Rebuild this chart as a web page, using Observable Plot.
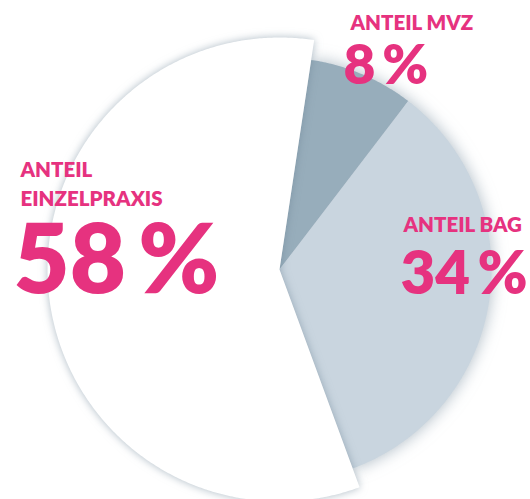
<!DOCTYPE html>
<html><head><meta charset="utf-8">
<script src="https://cdn.jsdelivr.net/npm/d3@7"></script>
<script src="https://cdn.jsdelivr.net/npm/@observablehq/plot@0.6"></script>
<style>html,body{margin:0;padding:0;background:#fff;}</style>
</head><body><div id="chart"></div>
<script>
// ---- data ----
const categories = ["MVZ", "BAG", "Einzelpraxis"];
const shares = [8, 34, 58];
const headLabels = ["ANTEIL MVZ", "ANTEIL BAG", "ANTEIL\nEINZELPRAXIS"];
const valueLabels = ["8\u2009%", "34\u2009%", "58\u2009%"];

// ---- styling / layout ----
const W = 530, H = 499;
const cx = 279, cy = 269;              // pie centre (px)
const sliceColors = ["#97adbb", "#c9d5df", "#ffffff"];
const sliceRadius = [212, 212, 232];   // white slice drawn larger
const startDeg = 8.6;
const pink = "#e6327f";
const font = "Lato, 'Open Sans', sans-serif";
const labelLayout = [
  {head: {x: 350, y: 29, size: 20.5}, value: {x: 343, y: 83, size: 55}},
  {head: {x: 403, y: 231, size: 20.5}, value: {x: 400, y: 293, size: 60}},
  {head: {x: 20, y: 205, size: 20.5}, value: {x: 13, y: 292, size: 97}}
];

const rows = categories.map((c, i) => ({key: c, share: shares[i], color: sliceColors[i], r: sliceRadius[i]}));
const start = startDeg * Math.PI / 180;
const arcs = d3.pie().sort(null).value(d => d.share).startAngle(start).endAngle(start + 2 * Math.PI)(rows);

function slicePoints(a) {
  const r = a.data.r;
  const pts = [{key: a.data.key, color: a.data.color, x: 0, y: 0}];
  const n = Math.max(2, Math.ceil((a.endAngle - a.startAngle) / (Math.PI / 360)));
  for (let i = 0; i <= n; i++) {
    const t = a.startAngle + (a.endAngle - a.startAngle) * i / n;
    pts.push({key: a.data.key, color: a.data.color, x: r * Math.sin(t), y: r * Math.cos(t)});
  }
  return pts;
}
const greyPts = arcs.filter(a => a.data.key !== "Einzelpraxis").flatMap(slicePoints);
const whitePts = arcs.filter(a => a.data.key === "Einzelpraxis").flatMap(slicePoints);

const textMarks = [];
categories.forEach((c, i) => {
  const L = labelLayout[i];
  textMarks.push(Plot.text([headLabels[i]], {
    frameAnchor: "top-left", dx: L.head.x, dy: L.head.y, text: d => d,
    textAnchor: "start", lineAnchor: "bottom", lineHeight: 1.4,
    fill: pink, fontSize: L.head.size, fontWeight: 800, fontFamily: font
  }));
  textMarks.push(Plot.text([valueLabels[i]], {
    frameAnchor: "top-left", dx: L.value.x, dy: L.value.y, text: d => d,
    textAnchor: "start", lineAnchor: "bottom",
    fill: pink, fontSize: L.value.size, fontWeight: 800, fontFamily: font
  }));
});

const chart = Plot.plot({
  width: W, height: H, margin: 0,
  style: {background: "#fff", fontFamily: font, overflow: "visible"},
  x: {domain: [-cx, W - cx], axis: null},
  y: {domain: [cy - H, cy], axis: null},
  color: {type: "identity"},
  marks: [
    Plot.line(greyPts, {x: "x", y: "y", z: "key", fill: "color", stroke: "none", curve: "linear-closed"}),
    Plot.line(whitePts, {x: "x", y: "y", z: "key", fill: "color", stroke: "none", curve: "linear-closed"}),
    ...textMarks
  ]
});
const lines = chart.querySelectorAll('g[aria-label="line"]');
if (lines[0]) lines[0].style.filter = "drop-shadow(0 0 8px rgba(105,130,148,0.55))";
if (lines[1]) lines[1].style.filter = "drop-shadow(0 0 4px rgba(105,130,148,0.55))";
document.getElementById("chart").appendChild(chart);
</script>
</body></html>
